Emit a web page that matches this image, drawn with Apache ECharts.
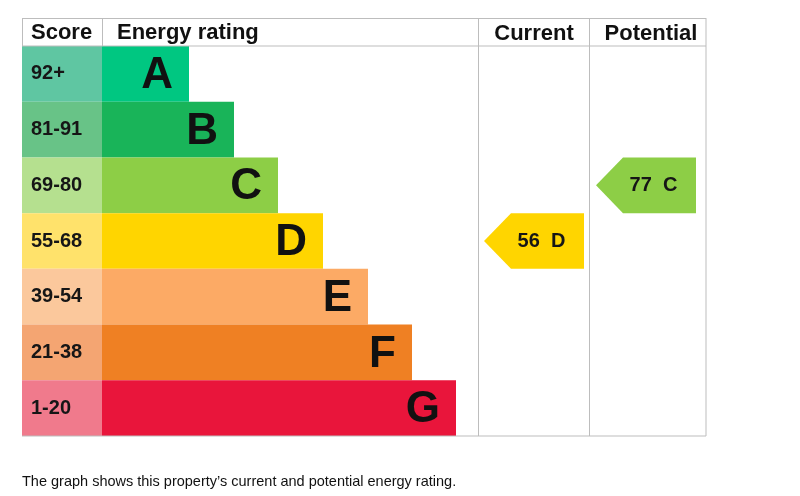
<!DOCTYPE html>
<html><head><meta charset="utf-8">
<script src="https://cdn.jsdelivr.net/npm/echarts@6/dist/echarts.min.js"></script>
<style>html,body{margin:0;padding:0;background:#fff}#c{width:800px;height:496px}</style>
</head><body><div id="c"></div>
<script>
const bands = ['A','B','C','D','E','F','G'];
const scoreRanges = ['92+','81-91','69-80','55-68','39-54','21-38','1-20'];
const bandMin = [92,81,69,55,39,21,1];
const barLengths = [87,132,176,221,266,310,354];
const bandColors = ['#00c781','#19b459','#8dce46','#ffd500','#fcaa65','#ef8023','#e9153b'];
const scoreColors = ['#5fc6a2','#68c387','#b5e08f','#ffe26b','#fbc89c','#f4a572','#f07a8c'];
const headers = ['Score','Energy rating','Current','Potential'];
const currentScore = 56;
const potentialScore = 77;
const footnote = "The graph shows this property\u2019s current and potential energy rating.";

const FONT = "'Liberation Sans', Arial, sans-serif";
const SCORE_W = 80;
const COLS = [[456,568],[568,684]];
const ARROW_INSET = 6, ARROW_W = 100, TIP = 27;
function bandOf(s){ for(let i=0;i<bandMin.length;i++){ if(s>=bandMin[i]) return i; } return bandMin.length-1; }

const chart = echarts.init(document.getElementById('c'), null, {renderer:'canvas'});
const lineColor = '#bdbdbd';
function ln(x1,y1,x2,y2){ return {type:'line', z:50, shape:{x1,y1,x2,y2}, style:{stroke:lineColor, lineWidth:1}}; }

chart.setOption({
  animation:false,
  grid:{left:22, top:46, width:684, height:390, containLabel:false},
  xAxis:{type:'value', min:0, max:684, show:false},
  yAxis:{type:'category', data:bands, inverse:true, show:false},
  series:[
    {type:'bar', stack:'r', barWidth:'100%', barCategoryGap:0, z:2,
     data:scoreRanges.map((s,i)=>({value:SCORE_W, itemStyle:{color:scoreColors[i]}})),
     label:{show:true, position:'insideLeft', distance:9, formatter:p=>scoreRanges[p.dataIndex],
            fontFamily:FONT, fontWeight:'bold', fontSize:20, color:'#161616'}},
    {type:'bar', stack:'r', barWidth:'100%', z:2,
     data:barLengths.map((v,i)=>({value:v, itemStyle:{color:bandColors[i]}})),
     label:{show:true, position:'insideRight', distance:16, offset:[0,2], formatter:p=>bands[p.dataIndex],
            fontFamily:FONT, fontWeight:'bold', fontSize:44, color:'#111'}},
    {type:'custom', z:3, encode:{x:0, y:1},
     data:[[currentScore, bandOf(currentScore), 0],[potentialScore, bandOf(potentialScore), 1]],
     renderItem:function(params, api){
       const score = api.value(0), bi = api.value(1), col = api.value(2);
       const a = api.coord([COLS[col][0]+ARROW_INSET, bi]);
       const b = api.coord([COLS[col][0]+ARROW_INSET+ARROW_W, bi]);
       const h = api.size([0,1])[1];
       const top = a[1]-h/2, bot = a[1]+h/2;
       return {type:'group', children:[
         {type:'polygon', shape:{points:[[a[0],a[1]],[a[0]+TIP,top],[b[0],top],[b[0],bot],[a[0]+TIP,bot]]},
          style:{fill:bandColors[bi]}},
         {type:'text', x:(a[0]+TIP+b[0])/2-6, y:a[1],
          style:{text:score+'  '+bands[bi], fill:'#161616', font:'bold 20px '+FONT, align:'center', verticalAlign:'middle'}}
       ]};
     }}
  ],
  graphic:[
    ln(22,18.5,706,18.5), ln(22,46,706,46), ln(22.5,18,22.5,46), ln(102.5,18,102.5,46),
    ln(478.5,18,478.5,436), ln(589.5,18,589.5,436), ln(706,18,706,436), ln(22,436,706,436),
    {type:'text', left:31, top:22, z:50, style:{text:headers[0], font:'bold 22px '+FONT, fill:'#111'}},
    {type:'text', left:117, top:22, z:50, style:{text:headers[1], font:'bold 22px '+FONT, fill:'#111'}},
    {type:'text', x:534, y:34, z:50, style:{text:headers[2], font:'bold 22px '+FONT, fill:'#111', align:'center', verticalAlign:'middle'}},
    {type:'text', x:651, y:34, z:50, style:{text:headers[3], font:'bold 22px '+FONT, fill:'#111', align:'center', verticalAlign:'middle'}},
    {type:'text', left:22, top:474, z:50, style:{text:footnote, font:'14.5px '+FONT, fill:'#111'}}
  ]
});
</script></body></html>
